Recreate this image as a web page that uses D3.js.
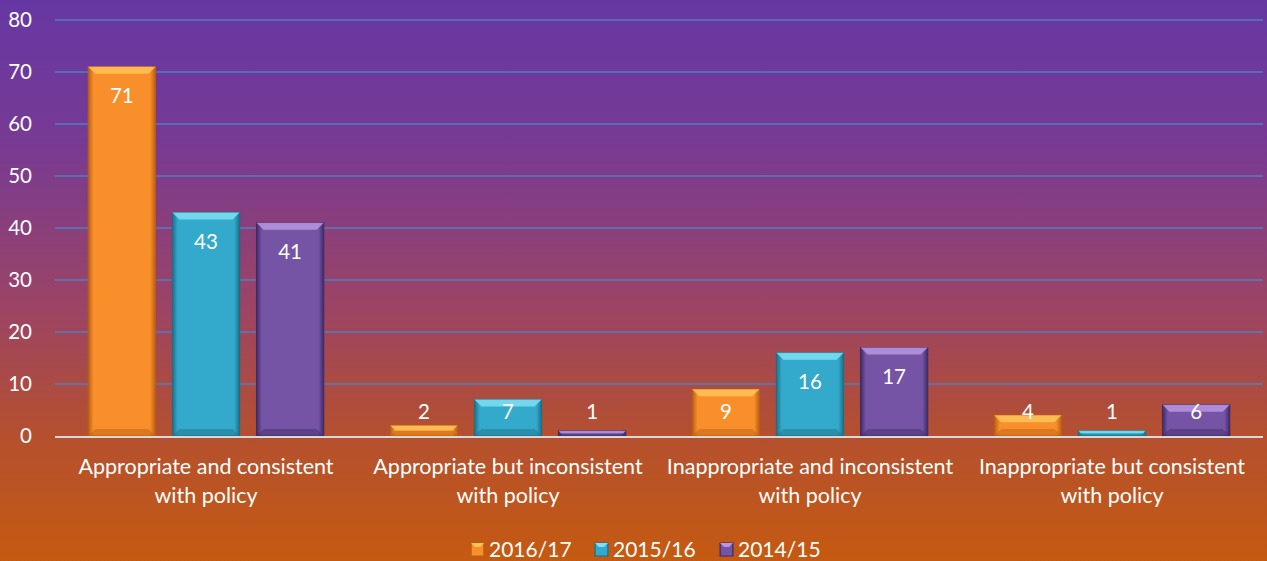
<!DOCTYPE html>
<html>
<head>
<meta charset="utf-8">
<script src="https://cdn.jsdelivr.net/npm/d3@7"></script>
<style>
  body { margin: 0; background: #c55a11; }
  text { font-family: Lato, "Open Sans", sans-serif; fill: #fff; }
</style>
</head>
<body>
<div id="chart"></div>
<script>
(function(){
    const categories = [
        ['Appropriate and consistent', 'with policy'],
        ['Appropriate but inconsistent', 'with policy'],
        ['Inappropriate and inconsistent', 'with policy'],
        ['Inappropriate but consistent', 'with policy']
    ];
    const seriesNames = ['2016/17', '2015/16', '2014/15'];
    const values2016 = [71, 2, 9, 4];
    const values2015 = [43, 7, 16, 1];
    const values2014 = [41, 1, 17, 6];
    const yTicks = [0, 10, 20, 30, 40, 50, 60, 70, 80];

    const series = [values2016, values2015, values2014];
    const colors = [
        { main: '#f98f2a', light: '#ffc35a', dark: '#b85f14' },
        { main: '#33a9cb', light: '#7ee0f5', dark: '#1c6f88' },
        { main: '#7554a6', light: '#b896e0', dark: '#3e2a66' }
    ];

    const W = 1267, H = 561;
    const margin = { top: 20, right: 4, bottom: 125, left: 55 };
    const width = W - margin.left - margin.right;
    const height = H - margin.top - margin.bottom;

    const svg = d3.select('#chart')
        .append('svg')
            .attr('width', W)
            .attr('height', H);

    const defs = svg.append('defs');
    const bg = defs.append('linearGradient')
        .attr('id', 'bg')
        .attr('x1', 0).attr('y1', 0).attr('x2', 0).attr('y2', 1);
    bg.append('stop').attr('offset', '0%').attr('stop-color', '#6637a3');
    bg.append('stop').attr('offset', '25%').attr('stop-color', '#773a94');
    bg.append('stop').attr('offset', '55%').attr('stop-color', '#9c4464');
    bg.append('stop').attr('offset', '78%').attr('stop-color', '#b5502e');
    bg.append('stop').attr('offset', '100%').attr('stop-color', '#c55a11');

    colors.forEach((c, i) => {
        const g = defs.append('linearGradient')
            .attr('id', 'bar' + i)
            .attr('x1', 0).attr('y1', 0).attr('x2', 1).attr('y2', 0);
        g.append('stop').attr('offset', '0%').attr('stop-color', c.dark);
        g.append('stop').attr('offset', '8%').attr('stop-color', c.main);
        g.append('stop').attr('offset', '92%').attr('stop-color', c.main);
        g.append('stop').attr('offset', '100%').attr('stop-color', c.dark);
    });

    svg.append('rect')
        .attr('width', W)
        .attr('height', H)
        .attr('fill', 'url(#bg)');

    const chart = svg.append('g')
        .attr('transform', `translate(${margin.left}, ${margin.top})`);

    const x0 = d3.scaleBand()
        .domain(d3.range(categories.length))
        .range([0, width])
        .paddingInner(0.22)
        .paddingOuter(0.11);

    const x1 = d3.scaleBand()
        .domain(d3.range(series.length))
        .range([0, x0.bandwidth()])
        .paddingInner(0.2);

    const yScale = d3.scaleLinear()
        .domain([0, 80])
        .range([height, 0]);

    // gridlines
    chart.append('g')
        .selectAll('line')
        .data(yTicks.slice(1))
        .enter()
        .append('line')
            .attr('x1', 0)
            .attr('x2', width)
            .attr('y1', d => yScale(d))
            .attr('y2', d => yScale(d))
            .style('stroke', '#4f7fc0')
            .style('stroke-width', 1.5);

    // y labels
    chart.append('g')
        .selectAll('text')
        .data(yTicks)
        .enter()
        .append('text')
            .attr('x', -23)
            .attr('y', d => yScale(d))
            .attr('dy', '0.35em')
            .attr('text-anchor', 'end')
            .style('font-size', '20.5px')
            .text(d => d);

    const bars = [];
    categories.forEach((c, ci) => {
        series.forEach((s, si) => {
            bars.push({ ci, si, v: s[ci] });
        });
    });

    const bw = x1.bandwidth();
    const bevel = 7;

    const barG = chart.selectAll('.bar')
        .data(bars)
        .enter()
        .append('g')
            .attr('class', 'bar')
            .attr('transform', d => `translate(${x0(d.ci) + x1(d.si)}, 0)`);

    barG.append('rect')
        .attr('x', 0)
        .attr('y', d => yScale(d.v))
        .attr('width', bw)
        .attr('height', d => yScale(0) - yScale(d.v))
        .attr('fill', d => `url(#bar${d.si})`)
        .style('stroke', d => colors[d.si].dark)
        .style('stroke-width', 1);

    // top bevel
    barG.append('path')
        .attr('d', d => {
            const top = yScale(d.v);
            const h = Math.min(bevel, (yScale(0) - top) / 2);
            return `M0,${top}L${bw},${top}L${bw - h},${top + h}L${h},${top + h}Z`;
        })
        .attr('fill', d => colors[d.si].light)
        .style('opacity', 0.85);

    // bottom bevel
    barG.append('path')
        .attr('d', d => {
            const top = yScale(d.v);
            const bot = yScale(0);
            const h = Math.min(bevel, (bot - top) / 2);
            return `M0,${bot}L${bw},${bot}L${bw - h},${bot - h}L${h},${bot - h}Z`;
        })
        .attr('fill', d => colors[d.si].dark)
        .style('opacity', 0.45);

    // data labels
    barG.append('text')
        .attr('x', bw / 2)
        .attr('y', d => Math.min(yScale(d.v) + 29, yScale(0) - 24))
        .attr('dy', '0.35em')
        .attr('text-anchor', 'middle')
        .style('font-size', '20.5px')
        .text(d => d.v);

    // axis line
    chart.append('line')
        .attr('x1', 0)
        .attr('x2', width)
        .attr('y1', yScale(0) + 1)
        .attr('y2', yScale(0) + 1)
        .style('stroke', '#d9d9d9')
        .style('stroke-width', 2);

    // category labels
    const catText = chart.append('g')
        .selectAll('text')
        .data(categories)
        .enter()
        .append('text')
            .attr('x', (d, i) => x0(i) + x0.bandwidth() / 2)
            .attr('y', yScale(0) + 38)
            .attr('text-anchor', 'middle')
            .style('font-size', '21.5px');

    catText.selectAll('tspan')
        .data(d => d)
        .enter()
        .append('tspan')
            .attr('x', function () { return d3.select(this.parentNode).attr('x'); })
            .attr('dy', (d, i) => i === 0 ? 0 : 29)
            .text(d => d);

    // legend
    const legendX = [471, 595, 720];
    const legend = svg.append('g')
        .selectAll('g')
        .data(seriesNames)
        .enter()
        .append('g')
            .attr('transform', (d, i) => `translate(${legendX[i]}, 543)`);

    legend.append('rect')
        .attr('width', 13)
        .attr('height', 13)
        .attr('fill', (d, i) => `url(#bar${i})`)
        .style('stroke', (d, i) => colors[i].dark)
        .style('stroke-width', 1);

    legend.append('path')
        .attr('d', 'M0,0L13,0L9,4L4,4Z')
        .attr('fill', (d, i) => colors[i].light);

    legend.append('text')
        .attr('x', 18)
        .attr('y', 7)
        .attr('dy', '0.35em')
        .style('font-size', '21px')
        .text(d => d);
}());
</script>
</body>
</html>
